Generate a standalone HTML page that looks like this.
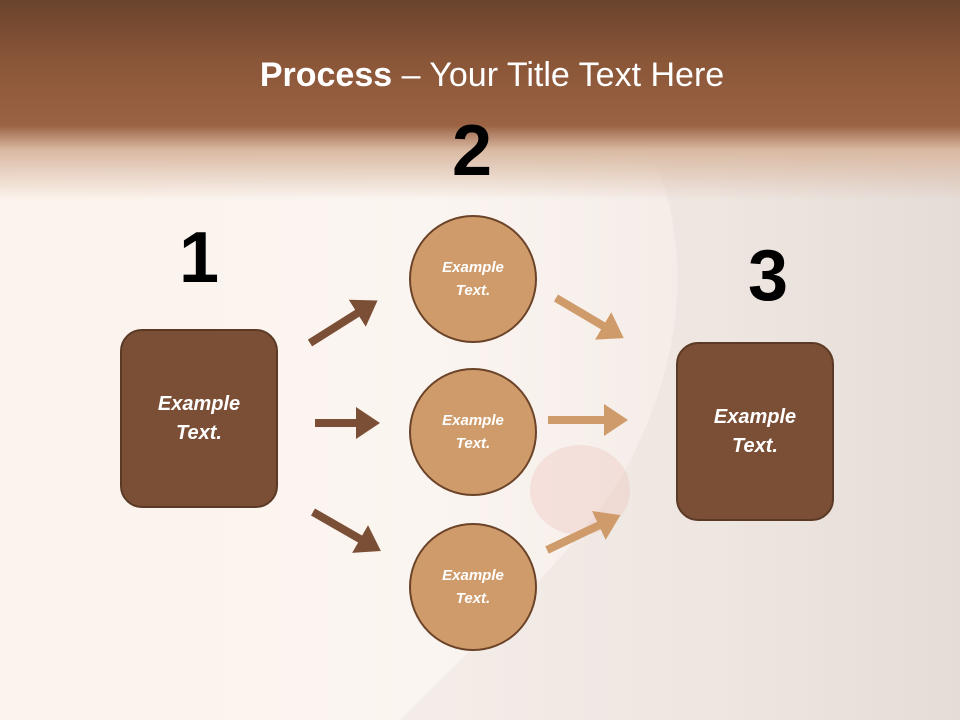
<!DOCTYPE html>
<html><head><meta charset="utf-8"><style>
html,body{margin:0;padding:0}
body{width:960px;height:720px;position:relative;overflow:hidden;font-family:"Liberation Sans",sans-serif;
background:linear-gradient(90deg,#fbf3ec 0%,#fbf5f1 45%,#f3ebe6 75%,#e6dcd8 100%);}
.hdr{position:absolute;left:0;top:0;width:960px;height:200px;
background:linear-gradient(180deg,#6a432d 0px,#8a5638 60px,#9b6243 125px,#d9b9a2 150px,rgba(245,232,222,0) 200px);}
.title{position:absolute;top:56px;left:0;width:984px;text-align:center;color:#fff;font-size:34px}
.num{position:absolute;font-weight:bold;font-size:72px;color:#000;width:100px;text-align:center;line-height:1}
.box{position:absolute;width:154px;height:175px;background:#7b4f35;border:2px solid #5a3a25;border-radius:22px;
color:#fff;font-weight:bold;font-style:italic;font-size:20px;display:flex;align-items:center;justify-content:center;text-align:center;line-height:29px}
.c{position:absolute;width:124px;height:124px;border-radius:50%;background:#cf9b6b;border:2.5px solid #6b4328;
color:#fff;font-weight:bold;font-style:italic;font-size:15px;display:flex;align-items:center;justify-content:center;text-align:center;line-height:23px}
</style></head><body>
<svg width="960" height="720" style="position:absolute;left:0;top:0">
<path d="M640 130 C690 220 690 330 640 440 C600 530 520 600 400 720 L960 720 L960 150 Z" fill="#e6dcd8" opacity="0.35"/>
<ellipse cx="580" cy="490" rx="50" ry="45" fill="#eab0a8" opacity="0.25"/>
</svg>
<div class="hdr"></div>
<svg width="960" height="720" style="position:absolute;left:0;top:0">
<defs>
<marker id="d" markerWidth="4" markerHeight="4" refX="1" refY="2" orient="auto"><path d="M0,0 L3,2 L0,4 Z" fill="#7b4f35"/></marker>
<marker id="t" markerWidth="4" markerHeight="4" refX="1" refY="2" orient="auto"><path d="M0,0 L3,2 L0,4 Z" fill="#cf9b6b"/></marker>
</defs>
<g stroke="#7b4f35" stroke-width="8" marker-end="url(#d)">
<line x1="310" y1="343" x2="364" y2="309"/>
<line x1="315" y1="423" x2="364" y2="423"/>
<line x1="313" y1="512" x2="367" y2="543"/>
</g>
<g stroke="#cf9b6b" stroke-width="8" marker-end="url(#t)">
<line x1="556" y1="298" x2="610" y2="330"/>
<line x1="548" y1="420" x2="612" y2="420"/>
<line x1="547" y1="550" x2="606" y2="522"/>
</g>
</svg>
<div class="title"><b>Process</b> – Your Title Text Here</div>
<div class="num" style="left:149px;top:222px">1</div>
<div class="num" style="left:422px;top:115px">2</div>
<div class="num" style="left:718px;top:240px">3</div>
<div class="box" style="left:120px;top:329px">Example<br>Text.</div>
<div class="box" style="left:676px;top:342px">Example<br>Text.</div>
<div class="c" style="left:409px;top:215px">Example<br>Text.</div>
<div class="c" style="left:409px;top:368px">Example<br>Text.</div>
<div class="c" style="left:409px;top:523px">Example<br>Text.</div>
</body></html>
